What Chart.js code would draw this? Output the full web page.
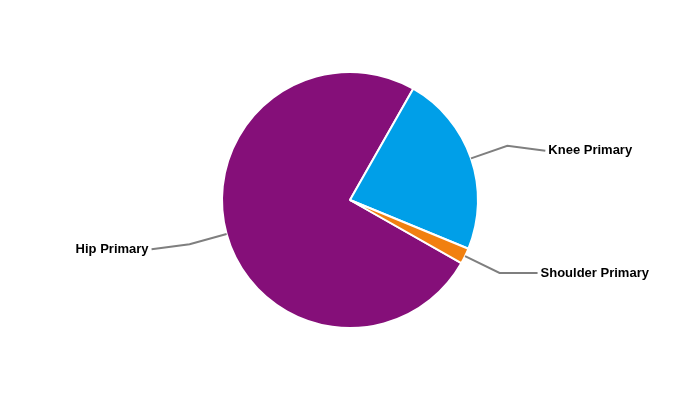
<!DOCTYPE html>
<html>
<head>
<meta charset="utf-8">
<script src="https://cdn.jsdelivr.net/npm/chart.js@4"></script>
<style>
  html, body { margin: 0; padding: 0; background: #fff; }
  #wrap { width: 700px; height: 400px; }
</style>
</head>
<body>
<div id="wrap"><canvas id="chart"></canvas></div>
<script>
// data
const labels = ["Hip Primary", "Knee Primary", "Shoulder Primary"];
const values = [75, 23, 2];
const colors = ["#850f79", "#009fe8", "#f18010"];

// leader lines + labels, drawn from the arc geometry
const leaderLabels = {
  id: "leaderLabels",
  afterDatasetsDraw(chart){
    const ctx = chart.ctx;
    const meta = chart.getDatasetMeta(0);
    ctx.save();
    ctx.font = "bold 13px 'Liberation Sans', Arial, sans-serif";
    ctx.fillStyle = "#000";
    ctx.strokeStyle = "#7f7f7f";
    ctx.lineWidth = 2;
    ctx.textBaseline = "middle";
    meta.data.forEach((arc, i) => {
      const { x, y, startAngle, endAngle, outerRadius } = arc.getProps(["x","y","startAngle","endAngle","outerRadius"], true);
      const mid = (startAngle + endAngle) / 2;
      const cos = Math.cos(mid), sin = Math.sin(mid);
      const x0 = x + cos * outerRadius, y0 = y + sin * outerRadius;
      const x1 = x + cos * outerRadius * 1.3, y1 = y + sin * outerRadius * 1.3;
      const right = cos >= 0;
      const x2 = x1 + (right ? 38 : -38);
      const y2 = y1 + (sin < 0.4 ? 5 : 0);
      ctx.beginPath();
      ctx.moveTo(x0, y0);
      ctx.lineTo(x1, y1);
      ctx.lineTo(x2, y2);
      ctx.stroke();
      ctx.textAlign = right ? "left" : "right";
      ctx.fillText(labels[i], x2 + (right ? 3 : -3), y2);
    });
    ctx.restore();
  }
};

new Chart(document.getElementById("chart"), {
  type: "pie",
  data: {
    labels,
    datasets: [{
      data: values,
      backgroundColor: colors,
      borderColor: "#ffffff",
      borderWidth: 2
    }]
  },
  options: {
    responsive: true,
    maintainAspectRatio: false,
    animation: false,
    rotation: 119.6,
    radius: 128,
    layout: { padding: 0 },
    plugins: {
      legend: { display: false },
      tooltip: { enabled: false }
    }
  },
  plugins: [leaderLabels]
});
</script>
</body>
</html>
